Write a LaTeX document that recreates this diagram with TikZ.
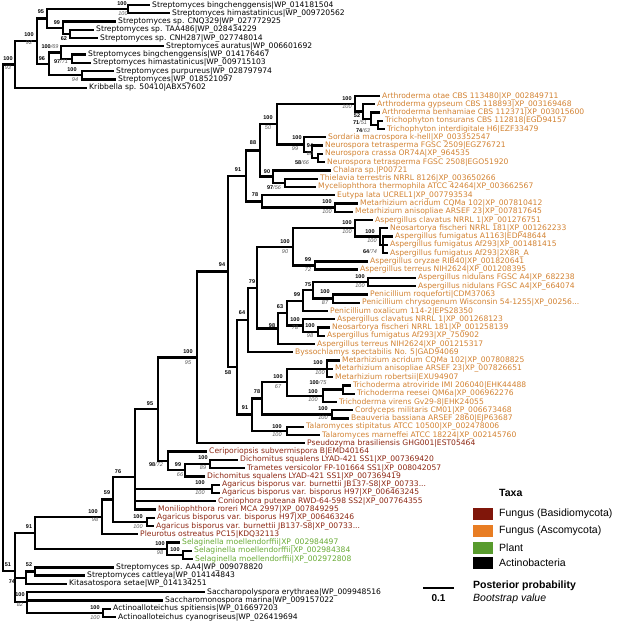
\documentclass[tikz,border=0pt]{standalone}
\usepackage{fontspec}
\setmainfont{Liberation Sans}
\newfontfamily\leaffont{DejaVu Sans}
\definecolor{asco}{RGB}{210,130,50}
\definecolor{ascosw}{RGB}{232,125,35}
\definecolor{basid}{RGB}{140,38,18}
\definecolor{basidsw}{RGB}{128,22,10}
\definecolor{plant}{RGB}{104,170,52}
\definecolor{plantsw}{RGB}{88,155,45}
\definecolor{bootc}{RGB}{85,85,85}
\tikzset{
  br/.style={line width=2.3pt},
  leaf/.style={font=\leaffont\fontsize{7.6}{8}\selectfont, inner xsep=2pt, inner ysep=0pt, anchor=west, text height=5.6pt, text depth=1.5pt},
  act/.style={leaf, text=black},
  asc/.style={leaf, text=asco},
  bas/.style={leaf, text=basid},
  pla/.style={leaf, text=plant},
  sb/.style={font=\bfseries\fontsize{5.5}{6}\selectfont, inner sep=0pt},
  si/.style={font=\itshape\fontsize{5.5}{6}\selectfont, text=bootc, inner sep=0pt},
  legt/.style={font=\fontsize{10.5}{12}\selectfont, inner sep=0pt, anchor=west},
  sw/.style={minimum width=20pt, minimum height=12pt, inner sep=0pt, draw=none}
}
\newcommand\bs[1]{{\mdseries\itshape\color{bootc}/#1}}
\begin{document}
\begin{tikzpicture}[x=1pt,y=-1pt]
\useasboundingbox (0,0) rectangle (617,623);
% ---------------- leaves ----------------
\node[act] (L1) at (150,5.00) {Streptomyces bingchenggensis|WP\_014181504};
\node[act] (L2) at (170,13.27) {Streptomyces himastatinicus|WP\_009720562};
\node[act] (L3) at (116,21.54) {Streptomyces sp. CNQ329|WP\_027772925};
\node[act] (L4) at (94,29.81) {Streptomyces sp. TAA486|WP\_028434229};
\node[act] (L5) at (98,38.08) {Streptomyces sp. CNH287|WP\_027748014};
\node[act] (L6) at (164,46.35) {Streptomyces auratus|WP\_006601692};
\node[act] (L7) at (86,54.62) {Streptomyces bingchenggensis|WP\_014176467};
\node[act] (L8) at (91,62.89) {Streptomyces himastatinicus|WP\_009715103};
\node[act] (L9) at (114,71.16) {Streptomyces purpureus|WP\_028797974};
\node[act] (L10) at (116,79.43) {Streptomyces|WP\_018521097};
\node[act] (L11) at (87,87.70) {Kribbella sp. 50410|ABX57602};
\node[asc] (L12) at (380,95.97) {Arthroderma otae CBS 113480|XP\_002849711};
\node[asc] (L13) at (375,104.24) {Arthroderma gypseum CBS 118893|XP\_003169468};
\node[asc] (L14) at (380,112.51) {Arthroderma benhamiae CBS 112371|XP\_003015600};
\node[asc] (L15) at (383,120.78) {Trichophyton tonsurans CBS 112818|EGD94157};
\node[asc] (L16) at (385,129.05) {Trichophyton interdigitale H6|EZF33479};
\node[asc] (L17) at (326,137.32) {Sordaria macrospora k-hell|XP\_003352547};
\node[asc] (L18) at (323,145.59) {Neurospora tetrasperma FGSC 2509|EGZ76721};
\node[asc] (L19) at (323,153.86) {Neurospora crassa OR74A|XP\_964535};
\node[asc] (L20) at (325,162.13) {Neurospora tetrasperma FGSC 2508|EGO51920};
\node[asc] (L21) at (331,170.40) {Chalara sp.|P00721};
\node[asc] (L22) at (318,178.67) {Thielavia terrestris NRRL 8126|XP\_003650266};
\node[asc] (L23) at (316,186.94) {Myceliophthora thermophila ATCC 42464|XP\_003662567};
\node[asc] (L24) at (335,195.21) {Eutypa lata UCREL1|XP\_007793534};
\node[asc] (L25) at (358,203.48) {Metarhizium acridum CQMa 102|XP\_007810412};
\node[asc] (L26) at (353,211.75) {Metarhizium anisopliae ARSEF 23|XP\_007817645};
\node[asc] (L27) at (373,220.02) {Aspergillus clavatus NRRL 1|XP\_001276751};
\node[asc] (L28) at (388,228.29) {Neosartorya fischeri NRRL 181|XP\_001262233};
\node[asc] (L29) at (393,236.56) {Aspergillus fumigatus A1163|EDP48644};
\node[asc] (L30) at (388,244.83) {Aspergillus fumigatus Af293|XP\_001481415};
\node[asc] (L31) at (388,253.10) {Aspergillus fumigatus Af293|2X8R\_A};
\node[asc] (L32) at (368,261.37) {Aspergillus oryzae RIB40|XP\_001820641};
\node[asc] (L33) at (358,269.64) {Aspergillus terreus NIH2624|XP\_001208395};
\node[asc] (L34) at (416,277.91) {Aspergillus nidulans FGSC A4|XP\_682238};
\node[asc] (L35) at (416,286.18) {Aspergillus nidulans FGSC A4|XP\_664074};
\node[asc] (L36) at (368,294.45) {Penicillium roqueforti|CDM37063};
\node[asc] (L37) at (360,302.72) {Penicillium chrysogenum Wisconsin 54-1255|XP\_00256...};
\node[asc] (L38) at (328,310.99) {Penicillium oxalicum 114-2|EPS28350};
\node[asc] (L39) at (335,319.26) {Aspergillus clavatus NRRL 1|XP\_001268123};
\node[asc] (L40) at (330,327.53) {Neosartorya fischeri NRRL 181|XP\_001258139};
\node[asc] (L41) at (325,335.80) {Aspergillus fumigatus Af293|XP\_750902};
\node[asc] (L42) at (315,344.07) {Aspergillus terreus NIH2624|XP\_001215317};
\node[asc] (L43) at (293,352.34) {Byssochlamys spectabilis No. 5|GAD94069};
\node[asc] (L44) at (340,360.61) {Metarhizium acridum CQMa 102|XP\_007808825};
\node[asc] (L45) at (333,368.88) {Metarhizium anisopliae ARSEF 23|XP\_007826651};
\node[asc] (L46) at (333,377.15) {Metarhizium robertsii|EXU94907};
\node[asc] (L47) at (351,385.42) {Trichoderma atroviride IMI 206040|EHK44488};
\node[asc] (L48) at (355,393.69) {Trichoderma reesei QM6a|XP\_006962276};
\node[asc] (L49) at (337,401.96) {Trichoderma virens Gv29-8|EHK24055};
\node[asc] (L50) at (353,410.23) {Cordyceps militaris CM01|XP\_006673468};
\node[asc] (L51) at (349,418.50) {Beauveria bassiana ARSEF 2860|EJP63687};
\node[asc] (L52) at (304,426.77) {Talaromyces stipitatus ATCC 10500|XP\_002478006};
\node[asc] (L53) at (320,435.04) {Talaromyces marneffei ATCC 18224|XP\_002145760};
\node[bas] (L54) at (305,443.31) {Pseudozyma brasiliensis GHG001|EST05464};
\node[bas] (L55) at (207,451.58) {Ceriporiopsis subvermispora B|EMD40164};
\node[bas] (L56) at (238,459.85) {Dichomitus squalens LYAD-421 SS1|XP\_007369420};
\node[bas] (L57) at (245,468.12) {Trametes versicolor FP-101664 SS1|XP\_008042057};
\node[bas] (L58) at (205,476.39) {Dichomitus squalens LYAD-421 SS1|XP\_007369419};
\node[bas] (L59) at (220,484.66) {Agaricus bisporus var. burnettii JB137-S8|XP\_00733...};
\node[bas] (L60) at (220,492.93) {Agaricus bisporus var. bisporus H97|XP\_006463245};
\node[bas] (L61) at (216,501.20) {Coniophora puteana RWD-64-598 SS2|XP\_007764355};
\node[bas] (L62) at (156,509.47) {Moniliophthora roreri MCA 2997|XP\_007849295};
\node[bas] (L63) at (155,517.74) {Agaricus bisporus var. bisporus H97|XP\_006463246};
\node[bas] (L64) at (154,526.01) {Agaricus bisporus var. burnettii JB137-S8|XP\_00733...};
\node[bas] (L65) at (138,534.28) {Pleurotus ostreatus PC15|KDQ32113};
\node[pla] (L66) at (180,542.55) {Selaginella moellendorffii|XP\_002984497};
\node[pla] (L67) at (192,550.82) {Selaginella moellendorffii|XP\_002984384};
\node[pla] (L68) at (193,559.09) {Selaginella moellendorffii|XP\_002972808};
\node[act] (L69) at (114,567.36) {Streptomyces sp. AA4|WP\_009078820};
\node[act] (L70) at (85,575.63) {Streptomyces cattleya|WP\_014144843};
\node[act] (L71) at (67,583.90) {Kitasatospora setae|WP\_014134251};
\node[act] (L72) at (205,592.17) {Saccharopolyspora erythraea|WP\_009948516};
\node[act] (L73) at (163,600.44) {Saccharomonospora marina|WP\_009157022};
\node[act] (L74) at (111,608.71) {Actinoalloteichus spitiensis|WP\_016697203};
\node[act] (L75) at (116,616.98) {Actinoalloteichus cyanogriseus|WP\_026419694};
% ---------------- internal nodes ----------------
\coordinate (root) at (3,317.6);
\coordinate (nT) at (15,64.44);
\coordinate (n10092) at (37,41.18);
\coordinate (n95) at (47,18.44);
\coordinate (nA) at (128,9.14);
\coordinate (n99) at (63,27.74);
\coordinate (n62) at (70,33.95);
\coordinate (n96) at (49,63.93);
\coordinate (n10069) at (61,52.55);
\coordinate (n9771) at (72,58.76);
\coordinate (nB) at (82,75.30);
\coordinate (n51) at (15,570.78);
\coordinate (n91) at (35,532.83);
\coordinate (n10098) at (102,516.9);
\coordinate (n59) at (113,499.52);
\coordinate (n76) at (135,477.16);
\coordinate (nAg1) at (212,488.8);
\coordinate (nAg2) at (147,521.88);
\coordinate (n95b) at (158,409.18);
\coordinate (n10095) at (197,357.47);
\coordinate (n94) at (228,271.62);
\coordinate (n91a) at (246,175.9);
\coordinate (n88) at (260,150.37);
\coordinate (n10050) at (277,124.14);
\coordinate (nDa) at (355,103.72);
\coordinate (nDb) at (363,111.48);
\coordinate (nDc) at (371,118.71);
\coordinate (nDd) at (378,124.92);
\coordinate (nNd) at (304,144.56);
\coordinate (nNe) at (312,151.8);
\coordinate (nNf) at (318,158.0);
\coordinate (n90) at (273,176.6);
\coordinate (n9756) at (285,182.8);
\coordinate (n78a) at (262,201.4);
\coordinate (nM1) at (335,207.6);
\coordinate (n58) at (237,367.34);
\coordinate (n64) at (248,320.04);
\coordinate (n79) at (257,287.73);
\coordinate (n10090) at (293,246.9);
\coordinate (nA100f) at (355,228.29);
\coordinate (nA100g) at (380,236.56);
\coordinate (n6474) at (383,244.83);
\coordinate (n9972) at (315,265.5);
\coordinate (n98) at (278,328.56);
\coordinate (n63) at (287,313.06);
\coordinate (n99b) at (303,300.65);
\coordinate (n75) at (313,290.32);
\coordinate (nN100h) at (368,282.05);
\coordinate (n10087) at (333,298.59);
\coordinate (n10078) at (303,325.46);
\coordinate (n10098i) at (318,331.67);
\coordinate (n91b) at (252,414.63);
\coordinate (n78b) at (262,398.35);
\coordinate (n10067) at (287,382.32);
\coordinate (nMet) at (327,368.88);
\coordinate (nTri) at (323,395.76);
\coordinate (n10075) at (343,389.56);
\coordinate (nCB) at (332,414.37);
\coordinate (nTal) at (287,430.91);
\coordinate (n9872) at (168,460.89);
\coordinate (n9966) at (185,470.19);
\coordinate (n10089) at (210,463.99);
\coordinate (nSel) at (167,548.76);
\coordinate (nSel2) at (183,554.96);
\coordinate (n74) at (26,577.7);
\coordinate (n52) at (35,571.5);
\coordinate (n10082) at (27,601.82);
\coordinate (nAct) at (103,612.85);
% ---------------- branches ----------------
\begin{scope}[br]
\draw (root) |- (nT); \draw (root) |- (n51);
\draw (nT) |- (n10092); \draw (nT) |- (L11.west);
\draw (n10092) |- (n95); \draw (n10092) |- (n96);
\draw (n95) |- (nA); \draw (n95) |- (n99);
\draw (nA) |- (L1.west); \draw (nA) |- (L2.west);
\draw (n99) |- (L3.west); \draw (n99) |- (n62);
\draw (n62) |- (L4.west); \draw (n62) |- (L5.west);
\draw (n96) |- (n10069); \draw (n96) |- (nB);
\draw (n10069) |- (L6.west); \draw (n10069) |- (n9771);
\draw (n9771) |- (L7.west); \draw (n9771) |- (L8.west);
\draw (nB) |- (L9.west); \draw (nB) |- (L10.west);
\draw (n51) |- (n91); \draw (n51) |- (n74); \draw (n51) |- (n10082);
\draw (n91) |- (n10098); \draw (n91) |- (nSel);
\draw (n10098) |- (n59); \draw (n10098) |- (L65.west);
\draw (n59) |- (n76); \draw (n59) |- (nAg2);
\draw (n76) |- (n95b); \draw (n76) |- (nAg1); \draw (n76) |- (L61.west); \draw (n76) |- (L62.west);
\draw (n95b) |- (n10095); \draw (n95b) |- (n9872);
\draw (n10095) |- (n94); \draw (n10095) |- (L54.west);
\draw (n94) |- (n91a); \draw (n94) |- (n58);
\draw (n91a) |- (n88); \draw (n91a) |- (n78a);
\draw (n88) |- (n10050); \draw (n88) |- (n90);
\draw (n10050) |- (nDa); \draw (n10050) |- (nNd);
\draw (nDa) |- (L12.west); \draw (nDa) |- (nDb);
\draw (nDb) |- (L13.west); \draw (nDb) |- (nDc);
\draw (nDc) |- (L14.west); \draw (nDc) |- (nDd);
\draw (nDd) |- (L15.west); \draw (nDd) |- (L16.west);
\draw (nNd) |- (L17.west); \draw (nNd) |- (nNe);
\draw (nNe) |- (L18.west); \draw (nNe) |- (nNf);
\draw (nNf) |- (L19.west); \draw (nNf) |- (L20.west);
\draw (n90) |- (L21.west); \draw (n90) |- (n9756);
\draw (n9756) |- (L22.west); \draw (n9756) |- (L23.west);
\draw (n78a) |- (L24.west); \draw (n78a) |- (nM1);
\draw (nM1) |- (L25.west); \draw (nM1) |- (L26.west);
\draw (n58) |- (n64); \draw (n58) |- (n91b);
\draw (n64) |- (n79); \draw (n64) |- (L43.west);
\draw (n79) |- (n10090); \draw (n79) |- (n98);
\draw (n10090) |- (nA100f); \draw (n10090) |- (n9972);
\draw (nA100f) |- (L27.west); \draw (nA100f) |- (nA100g);
\draw (nA100g) |- (L28.west); \draw (nA100g) |- (n6474);
\draw (n6474) |- (L29.west); \draw (n6474) |- (L30.west); \draw (n6474) |- (L31.west);
\draw (n9972) |- (L32.west); \draw (n9972) |- (L33.west);
\draw (n98) |- (n63); \draw (n98) |- (L42.west);
\draw (n63) |- (n99b); \draw (n63) |- (n10078);
\draw (n99b) |- (n75); \draw (n99b) |- (L38.west);
\draw (n75) |- (nN100h); \draw (n75) |- (n10087);
\draw (nN100h) |- (L34.west); \draw (nN100h) |- (L35.west);
\draw (n10087) |- (L36.west); \draw (n10087) |- (L37.west);
\draw (n10078) |- (L39.west); \draw (n10078) |- (n10098i);
\draw (n10098i) |- (L40.west); \draw (n10098i) |- (L41.west);
\draw (n91b) |- (n78b); \draw (n91b) |- (nTal);
\draw (n78b) |- (n10067); \draw (n78b) |- (nCB);
\draw (n10067) |- (nMet); \draw (n10067) |- (nTri);
\draw (nMet) |- (L44.west); \draw (nMet) |- (L45.west); \draw (nMet) |- (L46.west);
\draw (nTri) |- (n10075); \draw (nTri) |- (L49.west);
\draw (n10075) |- (L47.west); \draw (n10075) |- (L48.west);
\draw (nCB) |- (L50.west); \draw (nCB) |- (L51.west);
\draw (nTal) |- (L52.west); \draw (nTal) |- (L53.west);
\draw (n9872) |- (L55.west); \draw (n9872) |- (n9966);
\draw (n9966) |- (n10089); \draw (n9966) |- (L58.west);
\draw (n10089) |- (L56.west); \draw (n10089) |- (L57.west);
\draw (nAg1) |- (L59.west); \draw (nAg1) |- (L60.west);
\draw (nAg2) |- (L63.west); \draw (nAg2) |- (L64.west);
\draw (nSel) |- (L66.west); \draw (nSel) |- (nSel2);
\draw (nSel2) |- (L67.west); \draw (nSel2) |- (L68.west);
\draw (n74) |- (n52); \draw (n74) |- (L71.west);
\draw (n52) |- (L69.west); \draw (n52) |- (L70.west);
\draw (n10082) |- (L72.west); \draw (n10082) |- (L73.west); \draw (n10082) |- (nAct);
\draw (nAct) |- (L74.west); \draw (nAct) |- (L75.west);
\end{scope}
% ---------------- support values ----------------
\node[sb] (s1) at (122,4) {100}; \node[si] (s2) at (123,14) {100};
\node[sb] (s3) at (41,12) {95};
\node[sb] (s4) at (57,23) {99};
\node[sb] (s5) at (64,39) {62};
\node[sb] (s6) at (29,35) {100}; \node[si] (s7) at (29,43) {92};
\node[sb] (s8) at (50,47) {100\bs{69}};
\node[sb] (s9) at (42,59) {96};
\node[sb] (s10) at (61,62) {97\bs{71}};
\node[sb] (s11) at (72,70) {100}; \node[si] (s12) at (75,80) {94};
\node[sb] (s13) at (8,59) {100}; \node[si] (s14) at (8,68) {93};
\node[sb] (s15) at (347,99) {100}; \node[si] (s16) at (347,107) {100};
\node[sb] (s17) at (357,116) {52};
\node[sb] (s18) at (360,123) {71\bs{51}};
\node[sb] (s19) at (363,131) {74\bs{63}};
\node[sb] (s20) at (268,118) {100}; \node[si] (s21) at (268,128) {50};
\node[sb] (s22) at (297,138) {100}; \node[si] (s23) at (295,149) {99};
\node[sb] (s24) at (310,146) {94}; \node[si] (s25) at (310,154) {80};
\node[sb] (s26) at (302,163) {58\bs{66}};
\node[sb] (s27) at (253,143) {88};
\node[sb] (s28) at (267,172) {90};
\node[sb] (s29) at (274,188) {97\bs{56}};
\node[sb] (s30) at (238,170) {91};
\node[sb] (s31) at (255,195) {78};
\node[sb] (s32) at (327,202) {100}; \node[si] (s33) at (327,212) {100};
\node[sb] (s34) at (347,223) {100}; \node[si] (s35) at (347,232) {100};
\node[sb] (s36) at (370,232) {100}; \node[si] (s37) at (372,241) {100};
\node[sb] (s38) at (370,252) {64\bs{74}};
\node[sb] (s39) at (308,260) {99}; \node[si] (s40) at (308,270) {72};
\node[sb] (s41) at (360,277) {100}; \node[si] (s42) at (360,286) {100};
\node[sb] (s43) at (308,285) {75};
\node[sb] (s44) at (325,292) {100}; \node[si] (s45) at (325,303) {87};
\node[sb] (s46) at (297,295) {99};
\node[sb] (s47) at (280,307) {63};
\node[sb] (s48) at (295,320) {100}; \node[si] (s49) at (295,328) {78};
\node[sb] (s50) at (272,326) {98};
\node[sb] (s51) at (310,326) {100}; \node[si] (s52) at (310,336) {98};
\node[sb] (s53) at (285,242) {100}; \node[si] (s54) at (285,252) {90};
\node[sb] (s55) at (252,282) {79};
\node[sb] (s56) at (242,313) {64};
\node[sb] (s57) at (222,265) {94};
\node[sb] (s58) at (228,373) {58};
\node[sb] (s59) at (188,352) {100}; \node[si] (s60) at (188,363) {95};
\node[sb] (s61) at (150,404) {95};
\node[sb] (s62) at (278,377) {100}; \node[si] (s63) at (278,387) {67};
\node[sb] (s64) at (257,392) {78};
\node[sb] (s65) at (245,408) {91};
\node[sb] (s66) at (318,363) {100}; \node[si] (s67) at (320,373) {100};
\node[sb] (s68) at (318,383) {100\bs{75}};
\node[sb] (s69) at (313,392) {100}; \node[si] (s70) at (313,400) {100};
\node[sb] (s71) at (323,409) {100}; \node[si] (s72) at (323,418) {100};
\node[sb] (s73) at (277,427) {100}; \node[si] (s74) at (277,435) {100};
\node[sb] (s75) at (156,465) {98\bs{72}};
\node[sb] (s76) at (178,465) {99}; \node[si] (s77) at (180,475) {66};
\node[sb] (s78) at (203,458) {100}; \node[si] (s79) at (203,468) {89};
\node[sb] (s80) at (118,472) {76};
\node[sb] (s81) at (200,483) {100}; \node[si] (s82) at (200,493) {100};
\node[sb] (s83) at (107,493) {59};
\node[sb] (s84) at (138,517) {100}; \node[si] (s85) at (138,527) {100};
\node[sb] (s86) at (93,512) {100}; \node[si] (s87) at (95,520) {98};
\node[sb] (s88) at (29,527) {91};
\node[sb] (s89) at (160,544) {100}; \node[si] (s90) at (160,553) {98};
\node[sb] (s91) at (175,550) {100};
\node[sb] (s92) at (8,565) {51};
\node[sb] (s93) at (29,565) {52};
\node[sb] (s94) at (12,582) {74};
\node[sb] (s95) at (20,595) {100}; \node[si] (s96) at (20,605) {82};
\node[sb] (s97) at (95,608) {100}; \node[si] (s98) at (95,618) {100};
% ---------------- legend ----------------
\node[legt, font=\bfseries\fontsize{10.5}{12}\selectfont] (taxa) at (499,493) {Taxa};
\node[sw, fill=basidsw] (sw1) at (483,514) {};
\node[sw, fill=ascosw] (sw2) at (483,531) {};
\node[sw, fill=plantsw] (sw3) at (483,547.5) {};
\node[sw, fill=black] (sw4) at (483,563) {};
\node[legt] (t1) at (499,514) {Fungus (Basidiomycota)};
\node[legt] (t2) at (499,531) {Fungus (Ascomycota)};
\node[legt] (t3) at (499,547.5) {Plant};
\node[legt] (t4) at (499,563) {Actinobacteria};
\coordinate (sbA) at (423,588);
\coordinate (sbB) at (454,588);
\draw[br] (sbA) -- (sbB);
\node[font=\bfseries\fontsize{10}{12}\selectfont, inner sep=0pt] (sbl) at (438.5,598) {0.1};
\node[legt, font=\bfseries\fontsize{10.5}{12}\selectfont] (pp) at (473,586) {Posterior probability};
\node[legt, font=\itshape\fontsize{10.5}{12}\selectfont] (bv) at (473,598.5) {Bootstrap value};
\end{tikzpicture}
\end{document}
